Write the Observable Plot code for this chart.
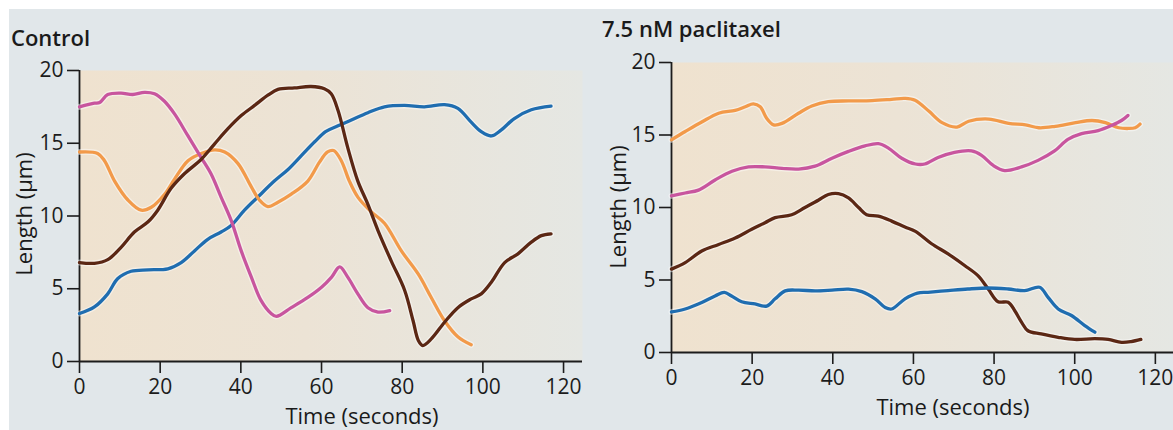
<!DOCTYPE html>
<html>
<head>
<meta charset="utf-8">
<script src="https://cdn.jsdelivr.net/npm/d3@7"></script>
<script src="https://cdn.jsdelivr.net/npm/@observablehq/plot@0.6"></script>
<style>
  html, body { margin: 0; padding: 0; background: #ffffff; }
  #wrap { position: relative; width: 1173px; height: 430px; overflow: hidden; }
  #bg { position: absolute; left: 9px; top: 9px; right: 0; bottom: 0; background: #e1e7ea; }
  .panel { position: absolute; top: 0; }
  #overlay { position: absolute; left: 0; top: 0; pointer-events: none; }
</style>
</head>
<body>
<div id="wrap">
  <div id="bg"></div>
  <div id="left" class="panel" style="left:0px"></div>
  <div id="right" class="panel" style="left:590px"></div>
  <svg id="overlay" width="1173" height="430"></svg>
</div>
<script>
// ---------- data (time in seconds, length in µm) ----------
const seriesNames = ["MT-1", "MT-2", "MT-3", "MT-4"];
const seriesColors = ["#1f6db0", "#f29a4a", "#c8559e", "#5b2714"];
const xTicks = [0, 20, 40, 60, 80, 100, 120];
const yTicks = [0, 5, 10, 15, 20];
const panelTitles = ["Control", "7.5 nM paclitaxel"];
const xLabel = "Time (seconds)";
const yLabel = "Length (µm)";

// control
const controlBlue = [[0,3.3],[3.7,3.75],[7,4.65],[9.5,5.7],[12.8,6.2],[17,6.3],[21.9,6.37],[25.2,6.8],[28.5,7.6],[31.8,8.4],[35.1,8.9],[37.6,9.35],[40.9,10.4],[44.2,11.3],[48.3,12.4],[51.7,13.2],[55,14.15],[58.3,15.1],[61,15.8],[64.1,16.2],[67.4,16.6],[71.5,17.1],[75.6,17.5],[80.6,17.6],[85.5,17.5],[90.5,17.65],[93.8,17.4],[97.1,16.45],[99.6,15.8],[102.1,15.5],[104.5,15.9],[107.8,16.7],[112,17.3],[116.9,17.55]];
const controlOrange = [[0,14.4],[4.5,14.3],[6.2,13.8],[8.7,12.4],[12,11.1],[15.3,10.4],[17.8,10.6],[21.1,11.5],[23.6,12.55],[26.9,13.8],[30.2,14.3],[33.5,14.55],[36,14.4],[39.3,13.6],[42.6,12.0],[44.6,11.1],[46.7,10.65],[49.2,10.95],[52.5,11.5],[56.6,12.4],[59.5,13.7],[61.5,14.4],[63,14.5],[64.9,13.8],[66.9,12.4],[69,11.3],[72.3,10.3],[75.6,9.5],[79.8,7.6],[84,6.0],[87.2,4.4],[90.5,2.8],[93.8,1.7],[97.1,1.15]];
const controlPink = [[0,17.5],[3.7,17.75],[5,17.8],[7,18.35],[10.3,18.45],[13.2,18.35],[16.1,18.5],[18.6,18.4],[21,17.9],[23.6,17.0],[26.9,15.5],[30.2,14.0],[32.6,12.9],[35.1,11.3],[37.6,9.7],[40.1,7.6],[42.6,5.8],[45,4.2],[47.5,3.3],[48.8,3.1],[52.5,3.7],[56.6,4.4],[60,5.1],[62.5,5.8],[64.5,6.5],[66.5,5.8],[69,4.65],[71.5,3.7],[74,3.4],[76.9,3.5]];
const controlBrown = [[0,6.8],[3.7,6.75],[7,7.0],[10.3,7.85],[13.6,8.9],[17,9.6],[19.4,10.4],[22.7,11.9],[26,12.9],[30.2,13.9],[33.5,14.96],[36.8,16.0],[40.1,16.9],[43.4,17.6],[46.7,18.3],[49.2,18.7],[53.3,18.8],[57.4,18.9],[60.7,18.74],[62.4,18.4],[64.1,17.25],[66.5,14.7],[69,12.4],[71.5,10.8],[74,9.0],[77.3,6.9],[80.6,4.9],[82.7,2.8],[84,1.45],[85.1,1.1],[87.2,1.55],[90.5,2.7],[93.8,3.7],[97.1,4.3],[99.6,4.65],[102.1,5.45],[105.4,6.8],[108.7,7.4],[112,8.2],[114.5,8.65],[116.9,8.77]];

// 7.5 nM paclitaxel
const drugBlue = [[0,2.8],[3.4,3.0],[7.5,3.45],[10.8,3.9],[13.1,4.15],[14.9,3.9],[17.4,3.5],[20.7,3.35],[23.6,3.2],[25.7,3.7],[28.2,4.25],[31.5,4.3],[35.6,4.25],[39.8,4.3],[43.9,4.37],[47.2,4.2],[50.5,3.7],[53,3.1],[54.6,3.0],[57.9,3.7],[61,4.1],[63.6,4.15],[68.6,4.27],[73.5,4.38],[78.5,4.45],[83.5,4.38],[87.6,4.27],[91.3,4.5],[93.4,3.8],[95.9,3.0],[99.2,2.55],[102.5,1.86],[105,1.4]];
const drugOrange = [[0,14.67],[3.4,15.24],[7.5,15.9],[11.7,16.5],[15.8,16.7],[18.3,16.95],[20.3,17.15],[22,16.95],[23.6,16.15],[25.3,15.7],[27.4,15.8],[31.5,16.5],[34.8,17.0],[38.9,17.3],[43.9,17.35],[49.7,17.37],[54.6,17.46],[57.9,17.53],[60.4,17.4],[63.8,16.65],[67.1,15.85],[70.8,15.55],[73.7,15.95],[78.7,16.1],[83.6,15.8],[87.8,15.7],[91.1,15.5],[95.2,15.6],[100.2,15.85],[104.3,16.0],[107.6,15.85],[110.9,15.5],[113.3,15.45],[115,15.5],[116.2,15.75]];
const drugPink = [[0,10.8],[3.4,11.0],[6.7,11.2],[10.8,11.9],[15,12.5],[19.1,12.8],[23.2,12.8],[27.4,12.7],[31.5,12.65],[35.6,12.85],[39.8,13.4],[43.9,13.87],[48,14.25],[51.3,14.4],[53.8,14.1],[57.1,13.4],[60.5,13.0],[62.8,13.0],[66.1,13.45],[70.2,13.8],[74.4,13.9],[76.9,13.6],[79.8,12.9],[82.6,12.55],[86.8,12.8],[90.9,13.25],[95,13.9],[98.3,14.7],[101.7,15.1],[105.8,15.3],[109.1,15.65],[111.6,16.0],[113.2,16.35]];
const drugBrown = [[0,5.75],[3.4,6.2],[7.5,7.0],[11.7,7.45],[15.8,7.9],[19.9,8.5],[23.2,8.95],[25.7,9.3],[29.8,9.5],[33.1,10.0],[36.4,10.5],[38.9,10.9],[41.4,10.96],[43.9,10.66],[46.4,10.0],[48.4,9.5],[51.3,9.4],[54.6,9.06],[57.9,8.65],[60.5,8.35],[64.5,7.5],[68.6,6.8],[72.7,6.0],[76,5.3],[78.5,4.4],[81,3.5],[83.5,3.47],[85.1,2.9],[86.8,2.1],[88.4,1.5],[91.7,1.28],[95.9,1.05],[100,0.9],[105,0.95],[108.3,0.9],[111.6,0.7],[114,0.75],[116.4,0.9]];

// ---------- build tidy tables ----------
function tidy(groups) {
  return groups.flatMap(([name, pts]) => pts.map(([t, L]) => ({series: name, t, L})));
}
const controlData = tidy([["MT-1", controlBlue], ["MT-2", controlOrange], ["MT-3", controlPink], ["MT-4", controlBrown]]);
const drugData = tidy([["MT-2", drugOrange], ["MT-3", drugPink], ["MT-4", drugBrown], ["MT-1", drugBlue]]);

const FONT = "'Open Sans', 'Noto Sans', sans-serif";

function gradientMark(id) {
  return () => {
    const ns = "http://www.w3.org/2000/svg";
    const defs = document.createElementNS(ns, "defs");
    const g = document.createElementNS(ns, "linearGradient");
    g.setAttribute("id", id);
    g.setAttribute("x1", "0"); g.setAttribute("x2", "1");
    g.setAttribute("y1", "0"); g.setAttribute("y2", "0");
    [["0%", "#efe2cf"], ["45%", "#ece3d5"], ["100%", "#e5e7e3"]].forEach(([o, c]) => {
      const s = document.createElementNS(ns, "stop");
      s.setAttribute("offset", o); s.setAttribute("stop-color", c);
      g.appendChild(s);
    });
    defs.appendChild(g);
    return defs;
  };
}

function panel({data, width, marginLeft, marginRight, marginTop, marginBottom, xMax, gradId}) {
  return Plot.plot({
    width, height: 430, marginLeft, marginRight, marginTop, marginBottom,
    style: {background: "transparent", fontFamily: FONT, color: "#1c1c1c", overflow: "visible"},
    x: {domain: [0, xMax]},
    y: {domain: [0, 20]},
    color: {type: "ordinal", domain: seriesNames, range: seriesColors},
    marks: [
      gradientMark(gradId),
      Plot.frame({fill: `url(#${gradId})`, stroke: "none"}),
      Plot.axisY({ticks: yTicks, tickSize: 12, tickPadding: 4, label: null, fontSize: 21, strokeWidth: 1.6, tickFormat: d => String(d)}),
      Plot.axisX({ticks: xTicks, tickSize: 12, tickPadding: 6, label: null, fontSize: 21, strokeWidth: 1.6, tickFormat: d => String(d)}),
      Plot.ruleX([0], {y1: 0, y2: 20, stroke: "#1c1c1c", strokeWidth: 1.8}),
      Plot.ruleY([0], {stroke: "#1c1c1c", strokeWidth: 1.8}),
      Plot.line(data, {x: "t", y: "L", z: "series", stroke: "#ffffff", strokeWidth: 6, strokeOpacity: 0.45, curve: "catmull-rom"}),
      Plot.line(data, {x: "t", y: "L", z: "series", stroke: "series", strokeWidth: 3.3, curve: "catmull-rom"})
    ]
  });
}

document.getElementById("left").appendChild(panel({
  data: controlData, width: 590, marginLeft: 79, marginRight: 8, marginTop: 70, marginBottom: 69, xMax: 124.7, gradId: "gradL"
}));
document.getElementById("right").appendChild(panel({
  data: drugData, width: 583, marginLeft: 81, marginRight: 0, marginTop: 62, marginBottom: 78, xMax: 124.5, gradId: "gradR"
}));

// ---------- titles and axis labels ----------
const ov = d3.select("#overlay").style("font-family", FONT).attr("fill", "#1a1a1a");
ov.append("text").attr("x", 11).attr("y", 46).attr("font-size", 22).attr("font-weight", 600).text(panelTitles[0]);
ov.append("text").attr("x", 602).attr("y", 37).attr("font-size", 22).attr("font-weight", 600).text(panelTitles[1]);
ov.append("text").attr("x", 362).attr("y", 424).attr("font-size", 22).attr("text-anchor", "middle").text(xLabel);
ov.append("text").attr("x", 953).attr("y", 415).attr("font-size", 22).attr("text-anchor", "middle").text(xLabel);
ov.append("text").attr("transform", "translate(32,214) rotate(-90)").attr("font-size", 22).attr("text-anchor", "middle").text(yLabel);
ov.append("text").attr("transform", "translate(626,207) rotate(-90)").attr("font-size", 22).attr("text-anchor", "middle").text(yLabel);
</script>
</body>
</html>
